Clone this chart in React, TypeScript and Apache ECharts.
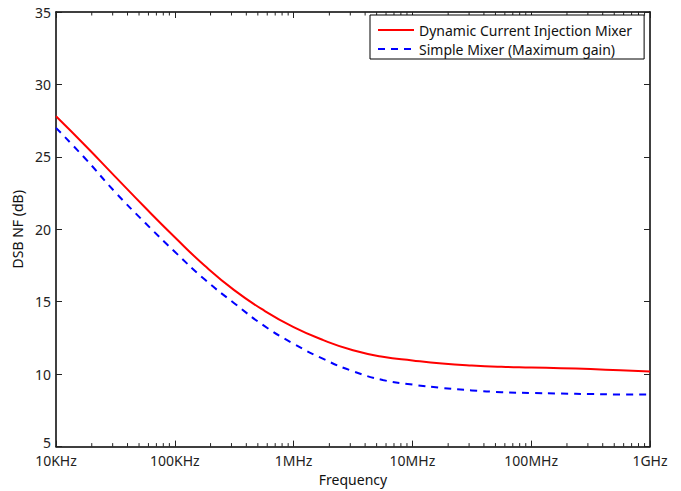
import React, { useEffect, useRef } from "react";
import * as echarts from "echarts";

const FREQS = [
  10000, 17783, 31623, 56234, 100000, 177828, 316228, 562341, 1000000,
  1778279, 3162278, 5623413, 10000000, 17782794, 31622777, 56234133,
  100000000, 177827941, 316227766, 562341325, 1000000000,
];
const DYNAMIC_NF = [
  27.8, 25.75, 23.62, 21.5, 19.45, 17.5, 15.8, 14.4, 13.25, 12.35, 11.65, 11.2,
  10.95, 10.74, 10.6, 10.51, 10.46, 10.41, 10.35, 10.27, 10.18,
];
const SIMPLE_NF = [
  27.0, 24.85, 22.55, 20.45, 18.45, 16.55, 14.9, 13.35, 12.1, 11.05, 10.2, 9.6,
  9.28, 9.05, 8.88, 8.76, 8.7, 8.66, 8.63, 8.6, 8.6,
];
const SERIES_NAMES = ["Dynamic Current Injection Mixer", "Simple Mixer (Maximum gain)"];
const X_LABELS: Record<string, string> = {
  "10000": "10KHz",
  "100000": "100KHz",
  "1000000": "1MHz",
  "10000000": "10MHz",
  "100000000": "100MHz",
  "1000000000": "1GHz",
};
const MINOR_TICK_FREQS = [
  20000, 30000, 40000, 50000, 60000, 70000, 80000, 90000,
  200000, 300000, 400000, 500000, 600000, 700000, 800000, 900000,
  2000000, 3000000, 4000000, 5000000, 6000000, 7000000, 8000000, 9000000,
  20000000, 30000000, 40000000, 50000000, 60000000, 70000000, 80000000, 90000000,
  200000000, 300000000, 400000000, 500000000, 600000000, 700000000, 800000000, 900000000,
];
const Y_MIN = 5;
const Y_MAX = 35;
const Y_STEP = 5;

const FONT = "'Noto Sans', 'Open Sans', sans-serif";

export default function App() {
  const ref = useRef<HTMLDivElement>(null);
  useEffect(() => {
    if (!ref.current) return;
    const chart = echarts.init(ref.current, undefined, { renderer: "svg" });
    const axisLineStyle = { color: "#000", width: 1.5 };
    const majorTick = { show: true, inside: true, length: 6, lineStyle: { color: "#222", width: 1 } };
    const MINOR_LEN = 3.5;
    chart.setOption({
      animation: false,
      backgroundColor: "#fff",
      textStyle: { fontFamily: FONT },
      grid: { left: 56, right: 31, top: 12, bottom: 40, containLabel: false },
      legend: {
        orient: "vertical",
        left: 370,
        top: 15,
        padding: [8, 12, 3, 7],
        itemGap: 5,
        itemWidth: 36,
        itemHeight: 14,
        borderColor: "#000",
        borderWidth: 1,
        backgroundColor: "#fff",
        itemStyle: { opacity: 0 },
        textStyle: { fontSize: 14, fontFamily: FONT, color: "#111" },
        data: SERIES_NAMES,
      },
      xAxis: [
        {
          type: "log",
          logBase: 10,
          min: 1e4,
          max: 1e9,
          position: "bottom",
          name: "Frequency",
          nameLocation: "middle",
          nameGap: 21,
          nameTextStyle: { fontSize: 14, color: "#111", fontFamily: FONT },
          axisLine: { show: true, lineStyle: axisLineStyle },
          axisTick: majorTick,
          axisLabel: {
            fontSize: 14,
            lineHeight: 13,
            color: "#222",
            margin: 7,
            fontFamily: FONT,
            formatter: (v: number) => X_LABELS[String(Math.round(v))] ?? "",
          },
          splitLine: { show: false },
        },
        {
          type: "log",
          logBase: 10,
          min: 1e4,
          max: 1e9,
          position: "top",
          axisLine: { show: true, lineStyle: axisLineStyle },
          axisTick: majorTick,
          axisLabel: { show: false },
          splitLine: { show: false },
        },
      ],
      yAxis: [
        {
          type: "value",
          min: Y_MIN,
          max: Y_MAX,
          interval: Y_STEP,
          position: "left",
          name: "DSB NF (dB)",
          nameLocation: "middle",
          nameGap: 28,
          nameTextStyle: { fontSize: 14, color: "#111", fontFamily: FONT },
          axisLine: { show: true, lineStyle: axisLineStyle },
          axisTick: majorTick,
          axisLabel: {
            fontSize: 14,
            lineHeight: 12,
            color: "#222",
            margin: 5,
            fontFamily: FONT,
            formatter: (v: number) => (v === Y_MIN ? `{lo|${v}}` : String(v)),
            rich: {
              lo: { fontSize: 14, lineHeight: 12, color: "#222", fontFamily: FONT, padding: [0, 0, 8, 0] },
            },
          },
          splitLine: { show: false },
        },
        {
          type: "value",
          min: Y_MIN,
          max: Y_MAX,
          interval: Y_STEP,
          position: "right",
          axisLine: { show: true, lineStyle: axisLineStyle },
          axisTick: majorTick,
          axisLabel: { show: false },
          splitLine: { show: false },
        },
      ],
      series: [
        {
          name: "minorTicks",
          type: "custom",
          xAxisIndex: 0,
          yAxisIndex: 0,
          silent: true,
          clip: false,
          data: MINOR_TICK_FREQS.map((f) => [f]),
          renderItem: (_params: any, api: any) => {
            const f = api.value(0);
            const b = api.coord([f, Y_MIN]);
            const t = api.coord([f, Y_MAX]);
            const style = { stroke: "#222", lineWidth: 1 };
            return {
              type: "group",
              children: [
                { type: "line", shape: { x1: b[0], y1: b[1], x2: b[0], y2: b[1] - MINOR_LEN }, style },
                { type: "line", shape: { x1: t[0], y1: t[1], x2: t[0], y2: t[1] + MINOR_LEN }, style },
              ],
            };
          },
        },
        {
          name: SERIES_NAMES[0],
          type: "line",
          xAxisIndex: 0,
          yAxisIndex: 0,
          smooth: true,
          symbol: "none",
          lineStyle: { color: "#ff0000", width: 2 },
          itemStyle: { color: "#ff0000" },
          data: FREQS.map((f, i) => [f, DYNAMIC_NF[i]]),
        },
        {
          name: SERIES_NAMES[1],
          type: "line",
          xAxisIndex: 0,
          yAxisIndex: 0,
          smooth: true,
          symbol: "none",
          lineStyle: { color: "#0000ff", width: 2, type: [7, 6] },
          itemStyle: { color: "#0000ff" },
          data: FREQS.map((f, i) => [f, SIMPLE_NF[i]]),
        },
      ],
    });
    return () => chart.dispose();
  }, []);
  return (
    <div
      ref={ref}
      style={{ position: "fixed", left: 0, top: 0, width: 681, height: 491, background: "#fff" }}
    />
  );
}
